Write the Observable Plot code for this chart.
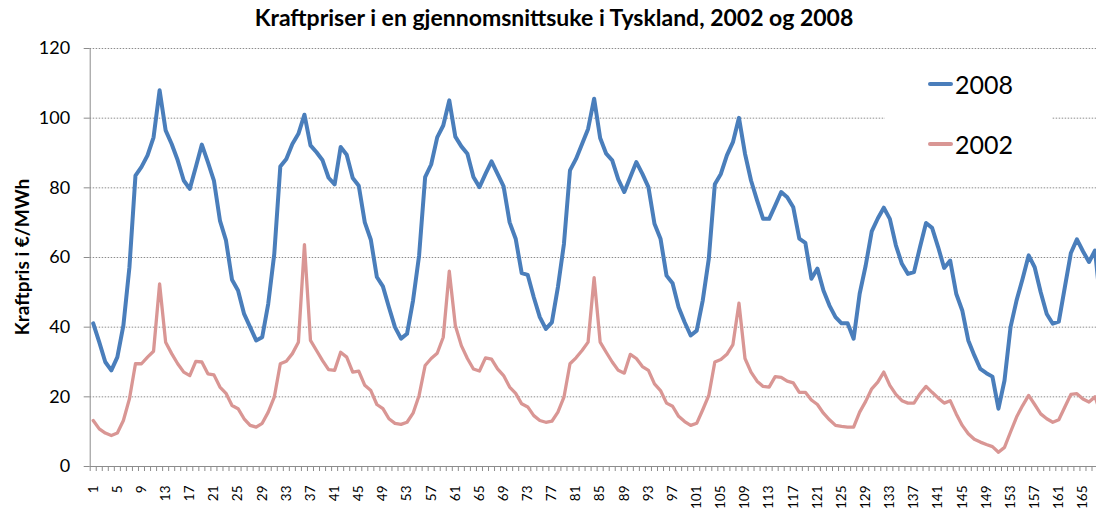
<!DOCTYPE html>
<html>
<head>
<meta charset="utf-8">
<script src="https://cdn.jsdelivr.net/npm/d3@7"></script>
<script src="https://cdn.jsdelivr.net/npm/@observablehq/plot@0.6"></script>
<style>
  html, body { margin: 0; padding: 0; background: #fff; overflow: hidden; }
  #wrap { position: relative; width: 1096px; height: 511px; overflow: hidden; }
  #title { position: absolute; left: 0; width: 1108px; top: 3px; text-align: center;
    font-family: Lato, sans-serif; font-weight: bold; font-size: 23px; color: #000; }
  #ylabel { position: absolute; left: 21px; top: 257px; transform: translate(-50%, -50%) rotate(-90deg);
    white-space: nowrap; font-family: Lato, sans-serif; font-weight: bold; font-size: 19px; color: #000; }
  #legend { position: absolute; left: 885px; top: 58px; width: 167px; height: 118px; background: #fff; }
  .li { position: absolute; left: 43px; font-family: Lato, sans-serif; font-size: 25px; color: #000;
    display: flex; align-items: center; }
  .li .sw { display: inline-block; width: 25px; height: 4px; border-radius: 2px; margin-right: 2px; }
  #chart svg { display: block; }
</style>
</head>
<body>
<div id="wrap">
  <div id="chart"></div>
  <div id="legend"></div>
  <div id="title"></div>
  <div id="ylabel"></div>
</div>
<script>
const titleText = "Kraftpriser i en gjennomsnittsuke i Tyskland, 2002 og 2008";
const yLabelText = "Kraftpris i €/MWh";
const seriesNames = ["2008", "2002"];
const seriesColors = ["#4A7EBB", "#D99694"];
const hours = d3.range(1, 169);
const yTicks = [0, 20, 40, 60, 80, 100, 120];
const xTickLabels = d3.range(1, 169, 4);

const prices2008 = [
  41.1, 35.7, 30, 27.6, 31.4, 40.5, 57.2, 83.5, 86, 89.3, 94.5, 108,
  96.5, 92.6, 87.9, 82.1, 79.7, 86, 92.4, 87.4, 82.1, 70.6, 64.9, 53.6,
  50.5, 43.8, 40, 36.2, 37.1, 46.7, 61, 86.1, 88.3, 92.6, 95.5, 101,
  92.2, 90.2, 87.9, 82.9, 81, 91.7, 89.5, 82.8, 80.6, 70.1, 65.1, 54.4,
  51.7, 45.7, 40, 36.7, 38.1, 47.7, 60.6, 83.1, 86.7, 94.5, 97.9, 105.1,
  94.7, 91.9, 89.8, 83.1, 80.2, 84, 87.6, 84, 80.4, 70.1, 65.4, 55.5,
  55, 48.6, 42.9, 39.5, 41.4, 51.5, 63.9, 85, 88.3, 92.6, 96.9, 105.6,
  94.3, 89.8, 87.9, 82.4, 78.8, 83.1, 87.4, 84, 80.2, 69.7, 65.4, 54.8,
  52.6, 45.7, 41.4, 37.6, 39, 47.7, 59.6, 81, 84, 89.3, 93.1, 100.1,
  89.8, 82.1, 76.4, 71.1, 71.1, 74.9, 78.8, 77.3, 74.4, 65.4, 64.2, 53.9,
  56.8, 50.5, 46.2, 42.9, 41.1, 41.1, 36.7, 49.6, 57.7, 67.5, 71.2, 74.3,
  71.1, 63.5, 58.2, 55.3, 55.8, 63, 69.9, 68.5, 63, 57, 59.1, 49.6,
  44.8, 36.2, 31.9, 28, 26.8, 25.8, 16.6, 24.7, 40, 47.7, 53.9, 60.6,
  57.2, 50, 43.8, 41, 41.6, 51.5, 61.3, 65.2, 61.8, 58.7, 62, 45
];
const prices2002 = [
  13.2, 10.8, 9.6, 8.9, 9.6, 13.2, 19.4, 29.5, 29.5, 31.4, 33.1, 52.4,
  35.7, 32.4, 29.5, 27.1, 26.1, 30.2, 30, 26.6, 26.3, 22.8, 21, 17.5,
  16.6, 13.7, 11.8, 11.3, 12.4, 15.6, 19.9, 29.5, 30.2, 32.4, 35.7, 63.7,
  36.2, 33.3, 30.4, 27.8, 27.6, 32.8, 31.4, 27.1, 27.4, 23.3, 21.8, 17.8,
  16.6, 13.7, 12.4, 12.1, 12.7, 15.3, 20.4, 29, 31, 32.5, 37.1, 56.1,
  40.5, 34.7, 31, 28, 27.4, 31.2, 30.8, 28, 26.1, 22.8, 21, 18,
  17.1, 14.6, 13.2, 12.7, 13, 15.6, 19.9, 29.5, 31.2, 33.3, 35.7, 54.2,
  35.7, 32.8, 30, 27.6, 26.8, 32.2, 31, 28.7, 27.6, 23.7, 21.8, 18.2,
  17.3, 14.4, 12.9, 11.8, 12.4, 16.3, 20.4, 30, 30.7, 32.2, 35, 46.9,
  31, 27.1, 24.5, 23, 22.8, 25.8, 25.6, 24.5, 24, 21.3, 21.3, 19.1,
  17.8, 15.3, 13.4, 11.8, 11.5, 11.3, 11.3, 15.6, 18.7, 22.3, 24.2, 27.1,
  23.3, 20.7, 18.9, 18.2, 18.2, 20.9, 23, 21.3, 19.7, 18.2, 18.9, 15.1,
  11.8, 9.4, 7.8, 7, 6.3, 5.7, 4.1, 5.5, 9.9, 14.2, 17.5, 20.4,
  17.8, 15.1, 13.7, 12.7, 13.4, 17.1, 20.7, 20.9, 19.4, 18.5, 20, 15
];

const d2008 = hours.map((h, i) => ({hour: h, price: prices2008[i]}));
const d2002 = hours.map((h, i) => ({hour: h, price: prices2002[i]}));
const boundaries = d3.range(0.5, 169, 1);

const font = "Lato, sans-serif";
const chart = Plot.plot({
  width: 1096,
  height: 511,
  marginLeft: 89.7,
  marginRight: 0,
  marginTop: 48,
  marginBottom: 45,
  style: {fontFamily: font, background: "#fff", overflow: "hidden"},
  x: {type: "linear", domain: [0.5, 168.5], range: [89.7, 89.7 + 168 * 6.035]},
  y: {domain: [0, 120]},
  marks: [
    Plot.gridY(yTicks.slice(1), {stroke: "#8c8c8c", strokeOpacity: 1, strokeWidth: 1, strokeDasharray: "1.5,1.5"}),
    Plot.axisY(yTicks, {tickSize: 6, tickPadding: 14, label: null, fontSize: 18, stroke: "#8c8c8c", color: "#000"}),
    Plot.axisX(boundaries, {tickSize: 5, text: null, label: null, stroke: "#8c8c8c"}),
    Plot.axisX(xTickLabels, {tickSize: 0, tickPadding: 19, tickRotate: -90, label: null, fontSize: 13.5, tickFormat: d => String(d), color: "#000"}),
    Plot.ruleX([0.5], {y1: 0, y2: 120, stroke: "#8c8c8c"}),
    Plot.ruleY([0], {stroke: "#8c8c8c"}),
    Plot.line(d2002, {x: "hour", y: "price", stroke: seriesColors[1], strokeWidth: 3.3, strokeLinejoin: "round"}),
    Plot.line(d2008, {x: "hour", y: "price", stroke: seriesColors[0], strokeWidth: 4, strokeLinejoin: "round"})
  ]
});
document.getElementById("chart").appendChild(chart);
document.getElementById("title").textContent = titleText;
document.getElementById("ylabel").textContent = yLabelText;

const legend = document.getElementById("legend");
seriesNames.forEach((name, i) => {
  const item = document.createElement("div");
  item.className = "li";
  item.style.top = (i === 0 ? 11 : 71) + "px";
  const sw = document.createElement("span");
  sw.className = "sw";
  sw.style.background = seriesColors[i];
  const t = document.createElement("span");
  t.textContent = name;
  item.appendChild(sw);
  item.appendChild(t);
  legend.appendChild(item);
});
</script>
</body>
</html>
